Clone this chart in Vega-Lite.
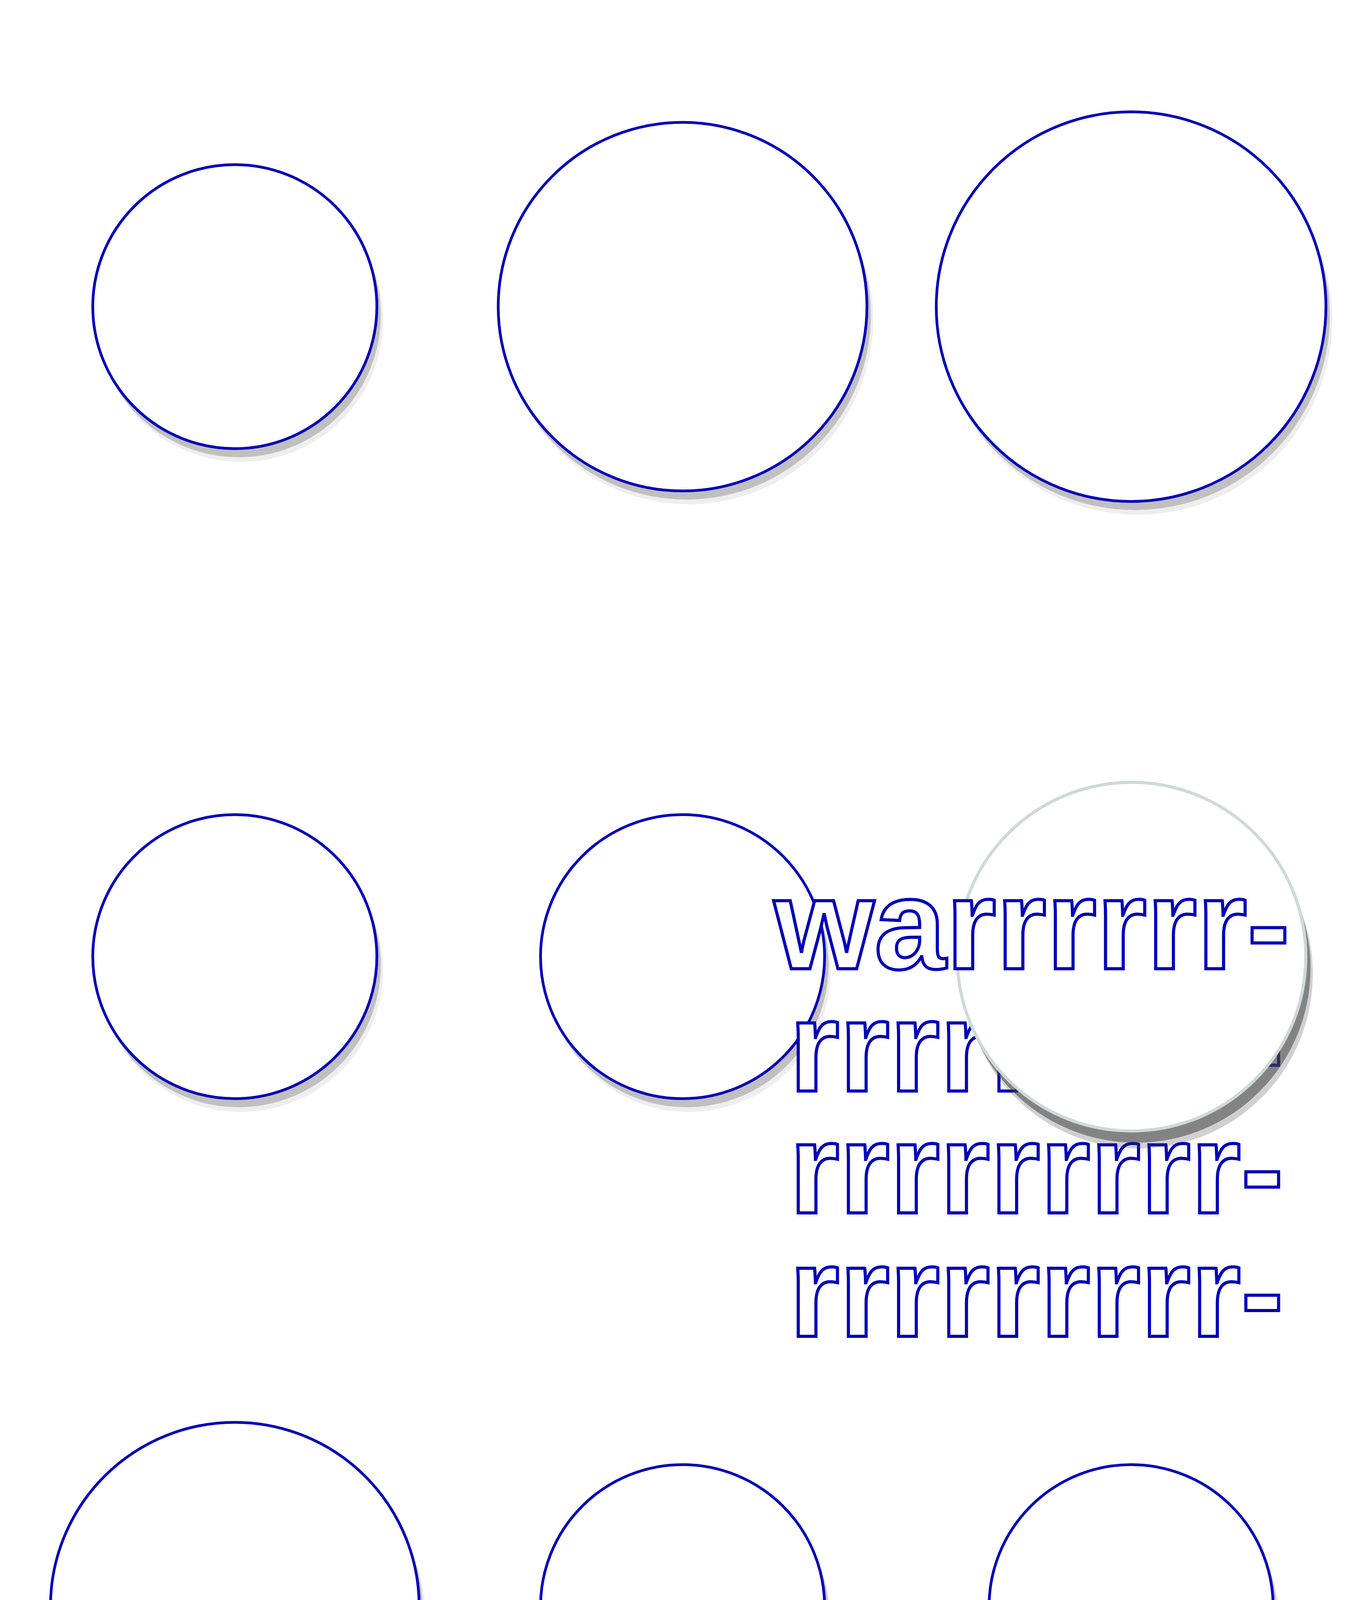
{
  "$schema": "https://vega.github.io/schema/vega-lite/v6.json",
  "width": 3509,
  "height": 4962,
  "autosize": {"type": "none"},
  "padding": 0,
  "background": "white",
  "config": {"view": {"stroke": null}},
  "datasets": {
    "circles": [
      {"x": 601, "y": 785, "r": 339, "group": "back"},
      {"x": 1747, "y": 785, "r": 440, "group": "back"},
      {"x": 2895, "y": 785, "r": 465, "group": "back"},
      {"x": 601, "y": 2449, "r": 339, "group": "back"},
      {"x": 1747, "y": 2449, "r": 339, "group": "back"},
      {"x": 2896, "y": 2449, "r": 416, "group": "front"},
      {"x": 601, "y": 4113, "r": 440, "group": "back"},
      {"x": 1747, "y": 4113, "r": 339, "group": "back"},
      {"x": 2895, "y": 4113, "r": 339, "group": "back"}
    ],
    "words": [
      {"line": "warrrrrr-", "x": 1981, "y": 2480, "group": "front"},
      {"line": "rrrrrrrrr-", "x": 2020, "y": 2793, "group": "back"},
      {"line": "rrrrrrrrr-", "x": 2020, "y": 3105, "group": "back"},
      {"line": "rrrrrrrrr-", "x": 2020, "y": 3421, "group": "back"}
    ]
  },
  "encoding": {
    "x": {"field": "x", "type": "quantitative", "scale": {"domain": [0, 3509]}, "axis": null},
    "y": {"field": "y", "type": "quantitative", "scale": {"domain": [4962, 0]}, "axis": null}
  },
  "layer": [
    {
      "data": {"name": "circles"},
      "transform": [{"filter": "datum.group == 'back'"}],
      "mark": {"type": "point", "shape": "circle", "filled": true, "color": "#555", "opacity": 0.1},
      "encoding": {
        "xOffset": {"value": 16},
        "yOffset": {"value": 34},
        "size": {"field": "r", "type": "quantitative", "scale": {"type": "pow", "exponent": 2, "domain": [0, 500], "range": [0, 1150000]}, "legend": null}
      }
    },
    {
      "data": {"name": "circles"},
      "transform": [{"filter": "datum.group == 'back'"}],
      "mark": {"type": "point", "shape": "circle", "filled": true, "color": "#555", "opacity": 0.3},
      "encoding": {
        "xOffset": {"value": 10},
        "yOffset": {"value": 22},
        "size": {"field": "r", "type": "quantitative", "scale": {"type": "pow", "exponent": 2, "domain": [0, 500], "range": [0, 1040000]}, "legend": null}
      }
    },
    {
      "data": {"name": "circles"},
      "transform": [{"filter": "datum.group == 'back'"}],
      "mark": {"type": "point", "shape": "circle", "filled": true, "fill": "white", "stroke": "#0000bb", "strokeWidth": 7, "opacity": 1},
      "encoding": {"size": {"field": "r", "type": "quantitative", "scale": {"type": "pow", "exponent": 2, "domain": [0, 500], "range": [0, 1000000]}, "legend": null}}
    },
    {
      "data": {"name": "words"},
      "transform": [{"filter": "datum.group == 'back'"}],
      "mark": {"type": "text", "font": "Liberation Sans", "fontWeight": "bold", "fontSize": 330, "align": "left", "baseline": "alphabetic", "fill": "white", "stroke": "#0000bb", "strokeWidth": 8},
      "encoding": {"text": {"field": "line"}}
    },
    {
      "data": {"name": "circles"},
      "transform": [{"filter": "datum.group == 'front'"}],
      "mark": {"type": "point", "shape": "circle", "filled": true, "color": "#444", "opacity": 0.25},
      "encoding": {
        "xOffset": {"value": 18},
        "yOffset": {"value": 45},
        "size": {"field": "r", "type": "quantitative", "scale": {"type": "pow", "exponent": 2, "domain": [0, 500], "range": [0, 1120000]}, "legend": null}
      }
    },
    {
      "data": {"name": "circles"},
      "transform": [{"filter": "datum.group == 'front'"}],
      "mark": {"type": "point", "shape": "circle", "filled": true, "color": "#444", "opacity": 0.55},
      "encoding": {
        "xOffset": {"value": 12},
        "yOffset": {"value": 30},
        "size": {"field": "r", "type": "quantitative", "scale": {"type": "pow", "exponent": 2, "domain": [0, 500], "range": [0, 1030000]}, "legend": null}
      }
    },
    {
      "data": {"name": "circles"},
      "transform": [{"filter": "datum.group == 'front'"}],
      "mark": {"type": "point", "shape": "circle", "filled": true, "fill": "white", "stroke": "#cddada", "strokeWidth": 8, "opacity": 1},
      "encoding": {"size": {"field": "r", "type": "quantitative", "scale": {"type": "pow", "exponent": 2, "domain": [0, 500], "range": [0, 1000000]}, "legend": null}}
    },
    {
      "data": {"name": "words"},
      "transform": [{"filter": "datum.group == 'front'"}],
      "mark": {"type": "text", "font": "Liberation Sans", "fontWeight": "bold", "fontSize": 330, "align": "left", "baseline": "alphabetic", "fill": "white", "stroke": "#0000bb", "strokeWidth": 8},
      "encoding": {"text": {"field": "line"}}
    }
  ]
}
